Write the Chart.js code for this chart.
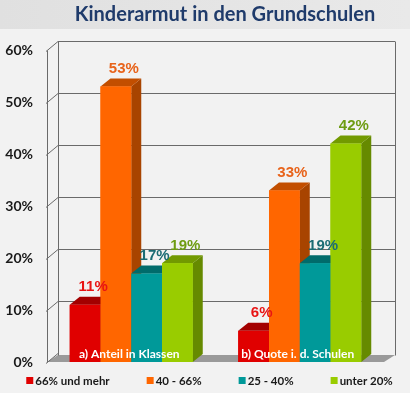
<!DOCTYPE html>
<html>
<head>
<meta charset="utf-8">
<script src="https://cdn.jsdelivr.net/npm/chart.js@4.4.0/dist/chart.umd.min.js"></script>
<style>
	html, body { margin: 0; padding: 0; background: #f2f2f2; }
</style>
</head>
<body>
<canvas id="myChart" width="410" height="393"></canvas>
<script>
let title = "Kinderarmut in den Grundschulen";
let groups = ["a) Anteil in Klassen", "b) Quote i. d. Schulen"];
let seriesNames = ["66% und mehr", "40 - 66%", "25 - 40%", "unter 20%"];
let red = [11, 6];
let orange = [53, 33];
let teal = [17, 19];
let green = [19, 42];
let yTicks = [0, 10, 20, 30, 40, 50, 60];

// front, top, side, label colour for each series
let colors = [
	{ front: "#e00000", top: "#a30000", side: "#8f0000", label: "#e81414" },
	{ front: "#ff6600", top: "#c24e00", side: "#a84400", label: "#e8631a" },
	{ front: "#009999", top: "#006b6b", side: "#007070", label: "#1b6c74" },
	{ front: "#99cc00", top: "#729a00", side: "#668a00", label: "#6e9c12" },
];

let depth = { x: 10, y: 8 }; // bar depth
let wall = { x: 11, y: 9 }; // back wall offset

let bars3d = {
	id: "bars3d",
	beforeDraw(chart) {
		let ctx = chart.ctx;
		ctx.save();
		ctx.fillStyle = "#f2f2f2";
		ctx.fillRect(0, 0, chart.width, chart.height);
		let g = ctx.createLinearGradient(0, 0, chart.width, 0);
		g.addColorStop(0, "#e0e0e0");
		g.addColorStop(1, "#e9e9e9");
		ctx.fillStyle = g;
		ctx.fillRect(0, 0, chart.width, 29);
		ctx.fillStyle = "#1f3b6b";
		ctx.font = "bold 20px Lato";
		ctx.textAlign = "center";
		ctx.textBaseline = "middle";
		ctx.fillText(title, 225, 15);
		ctx.restore();
	},
	beforeDatasetsDraw(chart) {
		let ctx = chart.ctx;
		let a = chart.chartArea;
		let y = chart.scales.y;
		ctx.save();
		// floor
		ctx.fillStyle = "#9a9a9a";
		ctx.beginPath();
		ctx.moveTo(a.left, a.bottom);
		ctx.lineTo(a.right, a.bottom);
		ctx.lineTo(a.right + wall.x, a.bottom - 7);
		ctx.lineTo(a.left + wall.x, a.bottom - 7);
		ctx.closePath();
		ctx.fill();
		// back wall grid
		ctx.strokeStyle = "#6a6a6a";
		ctx.lineWidth = 1;
		ctx.beginPath();
		for (let v of yTicks) {
			let py = Math.round(y.getPixelForValue(v)) + 0.5;
			if (v > 0) {
				ctx.moveTo(a.left + wall.x, py - wall.y);
				ctx.lineTo(a.right + wall.x, py - wall.y);
			}
			ctx.moveTo(a.left - 1, py + 1);
			ctx.lineTo(a.left + wall.x, py - wall.y);
		}
		let top = Math.round(y.getPixelForValue(60)) + 0.5;
		let bottom = Math.round(y.getPixelForValue(0)) + 0.5;
		ctx.moveTo(a.left + 0.5, top);
		ctx.lineTo(a.left + 0.5, bottom);
		ctx.moveTo(a.left + wall.x + 0.5, top - wall.y);
		ctx.lineTo(a.left + wall.x + 0.5, bottom - 7);
		ctx.moveTo(a.right + wall.x + 0.5, top - wall.y);
		ctx.lineTo(a.right + wall.x + 0.5, bottom - 7);
		ctx.stroke();
		ctx.restore();
	},
	afterDatasetsDraw(chart) {
		let ctx = chart.ctx;
		let list = [];
		chart.data.datasets.forEach((ds, i) => {
			chart.getDatasetMeta(i).data.forEach((bar, j) => {
				list.push({ bar: bar, c: colors[i], value: ds.data[j] });
			});
		});
		list.sort((p, q) => p.bar.x - q.bar.x);
		ctx.save();
		for (let item of list) {
			let b = item.bar;
			let l = b.x - b.width / 2;
			let r = b.x + b.width / 2;
			ctx.fillStyle = item.c.side;
			ctx.beginPath();
			ctx.moveTo(r, b.y);
			ctx.lineTo(r + depth.x, b.y - depth.y);
			ctx.lineTo(r + depth.x, b.base - depth.y);
			ctx.lineTo(r, b.base);
			ctx.closePath();
			ctx.fill();
			ctx.fillStyle = item.c.top;
			ctx.beginPath();
			ctx.moveTo(l, b.y);
			ctx.lineTo(l + depth.x, b.y - depth.y);
			ctx.lineTo(r + depth.x, b.y - depth.y);
			ctx.lineTo(r, b.y);
			ctx.closePath();
			ctx.fill();
			ctx.fillStyle = item.c.front;
			ctx.fillRect(l, b.y, b.width, b.base - b.y);
		}
		// value labels
		ctx.font = "bold 15px 'Liberation Sans'";
		ctx.textAlign = "center";
		ctx.textBaseline = "bottom";
		for (let item of list) {
			let b = item.bar;
			ctx.fillStyle = item.c.label;
			ctx.fillText(item.value + "%", b.x + 8, b.y - depth.y - 2);
		}
		// group labels inside the plot
		let x = chart.scales.x;
		ctx.font = "bold 12px Lato";
		ctx.fillStyle = "#ffffff";
		ctx.textBaseline = "middle";
		groups.forEach((g, i) => {
			ctx.fillText(g, x.getPixelForValue(i) - 2, chart.chartArea.bottom - 8);
		});
		ctx.restore();
	},
	afterDraw(chart) {
		// legend
		let ctx = chart.ctx;
		ctx.save();
		ctx.font = "bold 11.5px Lato";
		let gap = 37;
		let widths = seriesNames.map((n) => 9 + ctx.measureText(n).width);
		let total = widths.reduce((s, w) => s + w, 0) + gap * (widths.length - 1);
		let px = 209.5 - total / 2;
		let py = 381;
		ctx.textBaseline = "middle";
		ctx.textAlign = "left";
		seriesNames.forEach((n, i) => {
			ctx.fillStyle = colors[i].front;
			ctx.fillRect(px, py - 4, 7, 7);
			ctx.fillStyle = "#1a1a1a";
			ctx.fillText(n, px + 9, py);
			px += widths[i] + gap;
		});
		ctx.restore();
	},
};

let ctx = document.getElementById("myChart").getContext("2d");
let chart = new Chart(ctx, {
	type: "bar",
	data: {
		labels: groups,
		datasets: [
			{ label: seriesNames[0], data: red, backgroundColor: colors[0].front },
			{ label: seriesNames[1], data: orange, backgroundColor: colors[1].front },
			{ label: seriesNames[2], data: teal, backgroundColor: colors[2].front },
			{ label: seriesNames[3], data: green, backgroundColor: colors[3].front },
		],
	},
	options: {
		responsive: false,
		animation: false,
		layout: { padding: { left: 5, right: 26, top: 50, bottom: 31 } },
		datasets: { bar: { categoryPercentage: 0.73, barPercentage: 1.0, borderWidth: 0 } },
		plugins: {
			legend: { display: false },
			tooltip: { enabled: false },
		},
		scales: {
			x: { display: false },
			y: {
				min: 0,
				max: 60,
				afterFit: (scale) => {
					scale.width = 42;
				},
				ticks: {
					stepSize: 10,
					padding: 14,
					color: "#1a1a1a",
					font: { family: "Lato", weight: "bold", size: 14 },
					callback: (v) => v + "%",
				},
				grid: { display: false, drawTicks: false },
				border: { display: false },
			},
		},
	},
	plugins: [bars3d],
});
</script>
</body>
</html>
